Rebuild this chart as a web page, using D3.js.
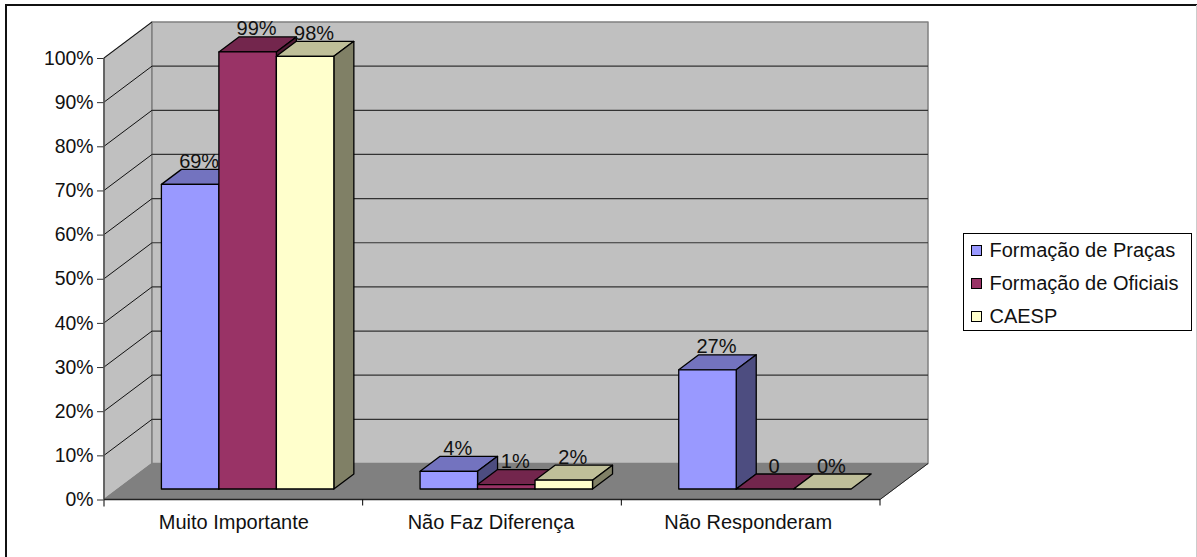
<!DOCTYPE html>
<html><head><meta charset="utf-8">
<script src="https://cdn.jsdelivr.net/npm/d3@7/dist/d3.min.js"></script>
<style>html,body{margin:0;padding:0;background:#fff}svg{display:block}text{font-family:"Liberation Sans",Arial,sans-serif;fill:#111}</style>
</head><body><svg id="c" width="1197" height="557"></svg>
<script>
const categories = ["Muito Importante","Não Faz Diferença","Não Responderam"];
const seriesNames = ["Formação de Praças","Formação de Oficiais","CAESP"];
const pracas = [69,4,27];
const oficiais = [99,1,0];
const caesp = [98,2,0];
const pracasLabels = ["69%","4%","27%"];
const oficiaisLabels = ["99%","1%","0"];
const caespLabels = ["98%","2%","0%"];
const front = ["#9999FF","#993366","#FFFFCC"];
const topC = ["#7373BF","#73264D","#BFBF99"];
const sideC = ["#4D4D80","#4D1A33","#808066"];
const yTicks = d3.range(0,101,10);

const svg = d3.select("#c");
const X0=104,X1=880,Y0=499.5,Y100=58,DX=48,DY=36;
const BDX=20,BDY=15;
const FS=20;
const y = d3.scaleLinear().domain([0,100]).range([Y0,Y100]);
const xCat = d3.scaleBand().domain(categories).range([X0,X1]);
const poly=(pts,fill,stroke,sw)=>svg.append("polygon").attr("points",pts.map(p=>p.join(",")).join(" ")).attr("fill",fill).attr("stroke",stroke).attr("stroke-width",sw).attr("stroke-linejoin","round");
const line=(a,b,stroke,sw)=>svg.append("line").attr("x1",a[0]).attr("y1",a[1]).attr("x2",b[0]).attr("y2",b[1]).attr("stroke",stroke).attr("stroke-width",sw);

// frame: top and left dark rules, faint right edge, no bottom rule
line([5,5],[1197,5],"#111",2);
line([6,4],[6,557],"#111",2);
line([1196.5,5],[1196.5,557],"#ccc",1);
// walls
poly([[X0,Y100],[X0+DX,Y100-DY],[X0+DX,Y0-DY],[X0,Y0]],"#C0C0C0","#808080",1.5);
poly([[X0+DX,Y100-DY],[X1+DX,Y100-DY],[X1+DX,Y0-DY],[X0+DX,Y0-DY]],"#C0C0C0","#808080",1.5);
poly([[X0,Y0],[X0+DX,Y0-DY],[X1+DX,Y0-DY],[X1,Y0]],"#808080","#808080",1);
// gridlines
yTicks.slice(1).forEach(t=>{
  const yy=y(t);
  line([X0,yy],[X0+DX,yy-DY],"#111",1);
  if(t<100) line([X0+DX,yy-DY],[X1+DX,yy-DY],"#333",1.2);
});
line([X1,Y0],[X1+DX,Y0-DY],"#222",1);
// axes
const yAxisG=svg.append("g").attr("transform",`translate(${X0},0)`).call(d3.axisLeft(y).tickValues(yTicks).tickSize(7).tickPadding(3.5).tickFormat(d=>d+"%"));
yAxisG.select(".domain").remove();
yAxisG.selectAll("line").attr("stroke","#333");
yAxisG.selectAll("text").attr("font-size",19.4).style("font-family",'"Liberation Sans"').style("fill","#111");
line([X0,Y100],[X0,Y0+7],"#555",1.5);
line([X0,Y0],[X1,Y0],"#222",1.5);
const xTicks=[0,1,2,3].map(i=>X0+i*xCat.step());
xTicks.slice(1).forEach(t=>line([t,Y0],[t,Y0+6],"#000",1));
svg.selectAll(".xl").data(categories).enter().append("text").attr("class","xl")
  .attr("x",(d,i)=>xCat(d)+xCat.bandwidth()/2+0.5-1.5*i).attr("y",529).attr("text-anchor","middle").attr("font-size",FS).text(d=>d);

// bars: 50% gap width, so each bar is the band divided by 4.5
const OX=14.3,OY=10.5;
const rows=[pracas,oficiais,caesp], labs=[pracasLabels,oficiaisLabels,caespLabels];
const barW=xCat.bandwidth()/4.5;
const geom=(c,si,v)=>{
  const xl=xCat(c)+OX+barW*0.75+si*barW, xr=xl+barW;
  const yb=y(0)-OY, yt=yb-(y(0)-y(v));
  return {xl,xr,yb,yt};
};
categories.forEach(c=>{
  const ci=categories.indexOf(c);
  rows.forEach((r,si)=>{
    const v=r[ci], {xl,xr,yb,yt}=geom(c,si,v);
    poly([[xl,yt],[xr,yt],[xr+BDX,yt-BDY],[xl+BDX,yt-BDY]],topC[si],"#000",1.3);
    if(v>0) poly([[xr,yt],[xr+BDX,yt-BDY],[xr+BDX,yb-BDY],[xr,yb]],sideC[si],"#000",1.3);
    if(v>0) poly([[xl,yt],[xr,yt],[xr,yb],[xl,yb]],front[si],"#000",1.3);
  });
});
categories.forEach((c,ci)=>{
  rows.forEach((r,si)=>{
    const v=r[ci], {xl,xr,yt}=geom(c,si,v);
    svg.append("text").attr("x",(xl+xr)/2+BDX/2-1).attr("y",yt-BDY-1.5).attr("text-anchor","middle").attr("font-size",FS).text(labs[si][ci]);
  });
});
// legend
svg.append("rect").attr("x",963.5).attr("y",233.5).attr("width",228).attr("height",97).attr("fill","#fff").attr("stroke","#000").attr("stroke-width",1);
const ly=d3.scalePoint().domain(seriesNames).range([250.5,316.5]);
seriesNames.forEach((n,i)=>{
  svg.append("rect").attr("x",971.5).attr("y",Math.round(ly(n))-5.5).attr("width",10).attr("height",10).attr("fill",front[i]).attr("stroke","#000").attr("stroke-width",1);
  svg.append("text").attr("x",989.5).attr("y",ly(n)+6.5).attr("font-size",FS).text(n);
});
</script></body></html>
